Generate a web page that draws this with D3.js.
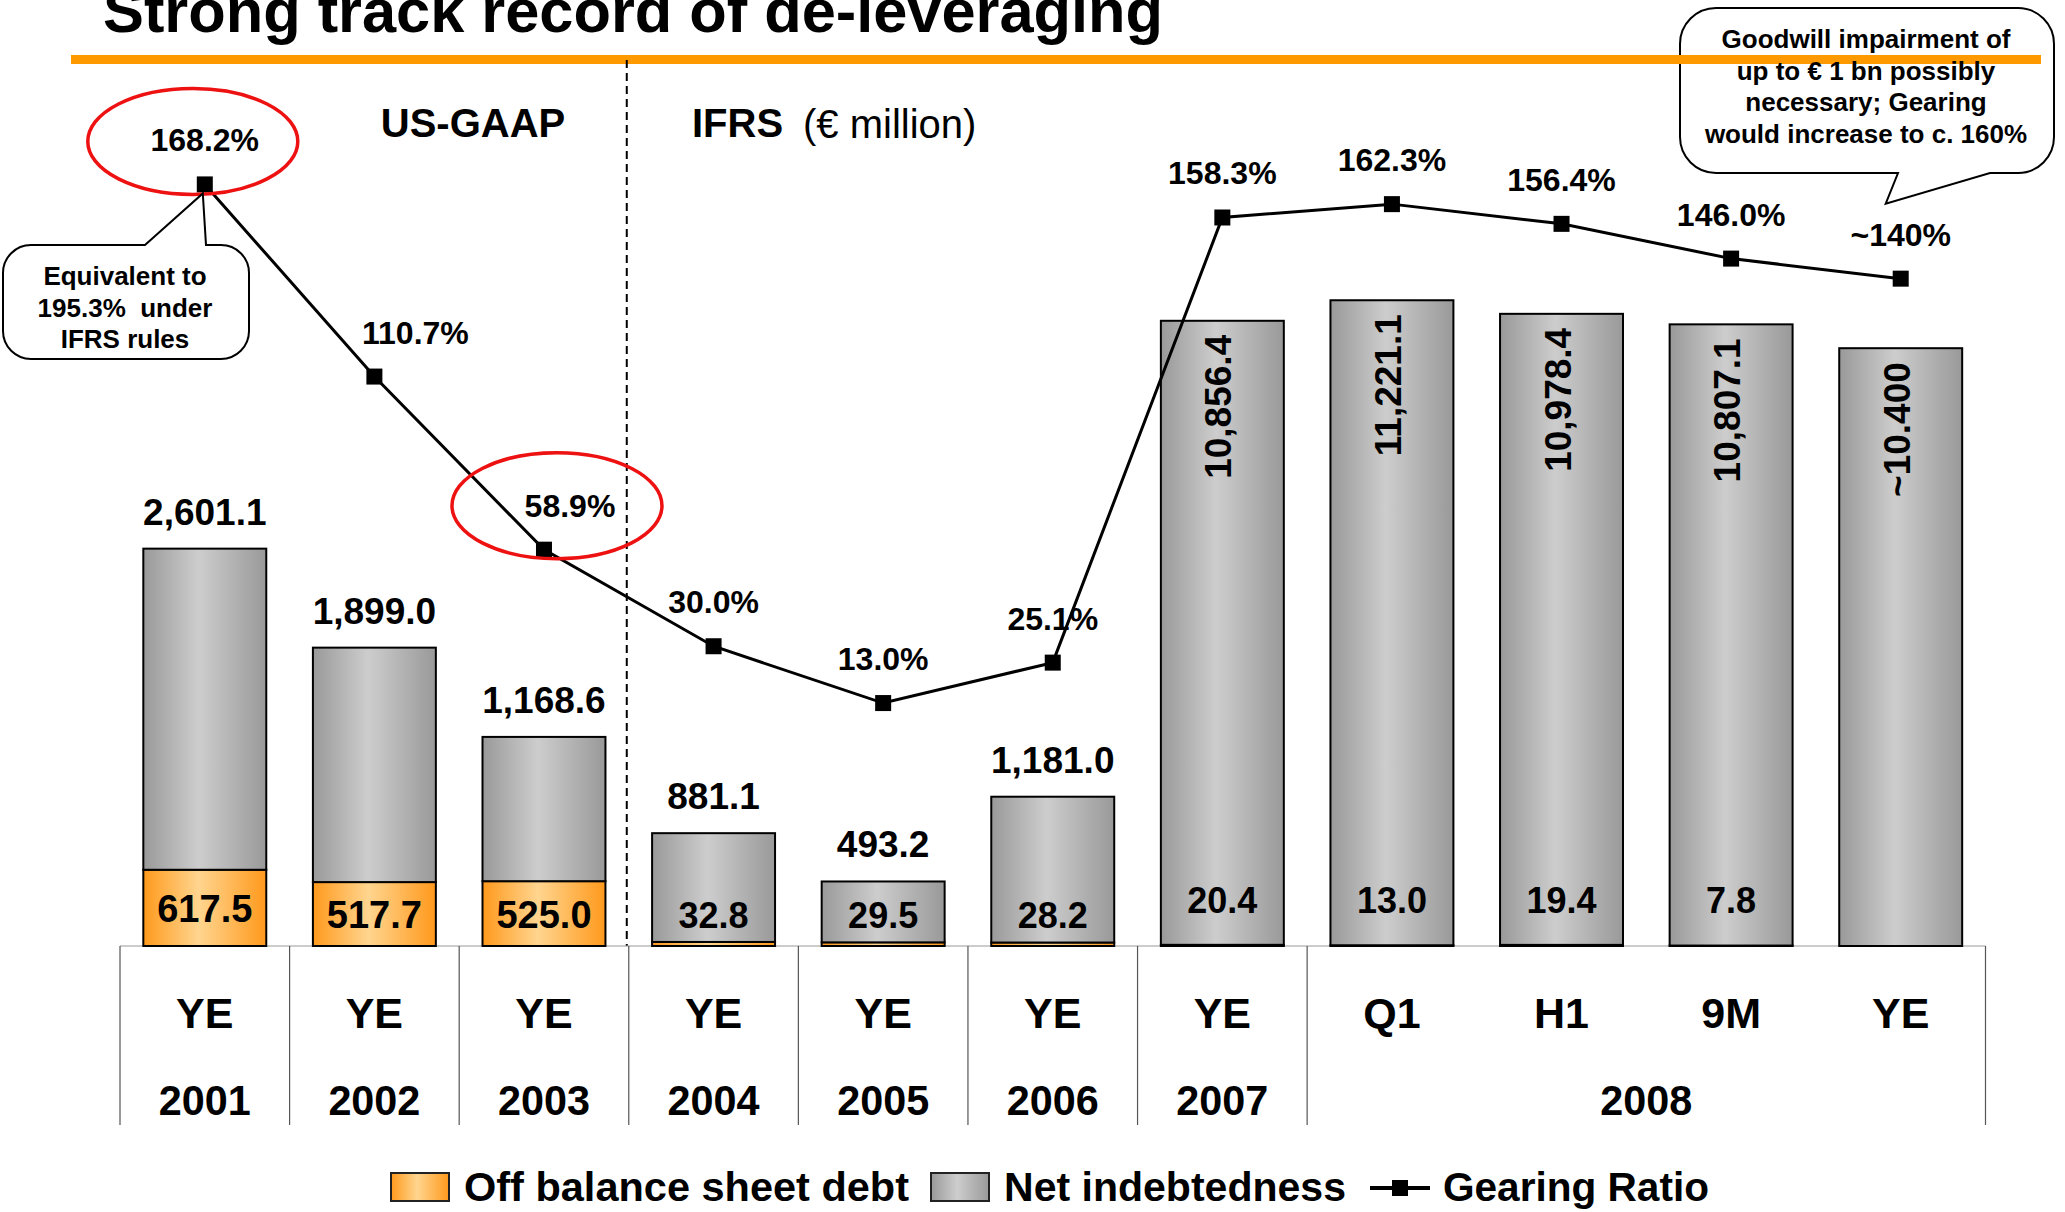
<!DOCTYPE html>
<html>
<head>
<meta charset="utf-8">
<script src="https://cdn.jsdelivr.net/npm/d3@7"></script>
<style>
	body { margin: 0; background: #fff; }
	svg { display: block; font-family: 'Liberation Sans', Arial, sans-serif; }
</style>
</head>
<body>
<div id="chart"></div>
<script>
const periods = ['YE 2001', 'YE 2002', 'YE 2003', 'YE 2004', 'YE 2005', 'YE 2006', 'YE 2007', 'Q1 2008', 'H1 2008', '9M 2008', 'YE 2008'];
const periodTicks = ['YE', 'YE', 'YE', 'YE', 'YE', 'YE', 'YE', 'Q1', 'H1', '9M', 'YE'];
const yearTicks = ['2001', '2002', '2003', '2004', '2005', '2006', '2007', '2008'];
const yearSpans = [1, 1, 1, 1, 1, 1, 1, 4];

const offBalance = [617.5, 517.7, 525.0, 32.8, 29.5, 28.2, 20.4, 13.0, 19.4, 7.8, 0];
const offBalanceLabels = ['617.5', '517.7', '525.0', '32.8', '29.5', '28.2', '20.4', '13.0', '19.4', '7.8', ''];
const netDebt = [2601.1, 1899.0, 1168.6, 881.1, 493.2, 1181.0, 10856.4, 11221.1, 10978.4, 10807.1, 10400];
const netDebtLabels = ['2,601.1', '1,899.0', '1,168.6', '881.1', '493.2', '1,181.0', '10,856.4', '11,221.1', '10,978.4', '10,807.1', '~10.400'];
const gearing = [168.2, 110.7, 58.9, 30.0, 13.0, 25.1, 158.3, 162.3, 156.4, 146.0, 140];
const gearingLabels = ['168.2%', '110.7%', '58.9%', '30.0%', '13.0%', '25.1%', '158.3%', '162.3%', '156.4%', '146.0%', '~140%'];

// the slide draws 2007 onwards on a compressed scale
const brokenAxisFrom = 'YE 2007';
const circled = ['YE 2001', 'YE 2003'];
const legendItems = ['Off balance sheet debt', 'Net indebtedness', 'Gearing Ratio'];

const width = 2065;
const height = 1212;
const base = 946;

const svg = d3.select('#chart').append('svg').attr('width', width).attr('height', height);

const x = d3.scaleBand().domain(periods).range([120, 1985.5]).paddingInner(0.275).paddingOuter(0.1375);
const yEarly = d3.scaleLinear().domain([0, 3240]).range([base, 546]);
const yLate = d3.scaleLinear().domain([0, 11221.1]).range([base, 301]);
const yGear = d3.scaleLinear().domain([0, 170]).range([746.5, 178.4]);
const lateStart = periods.indexOf(brokenAxisFrom);

const rows = periods.map((p, i) => ({
	p,
	i,
	off: offBalance[i],
	net: netDebt[i],
	gear: gearing[i],
	y: i >= lateStart ? yLate : yEarly,
}));

const cx = (p) => x(p) + x.bandwidth() / 2;

// gradients
const defs = svg.append('defs');
function grad(id, edge, mid) {
	const g = defs.append('linearGradient').attr('id', id).attr('x1', 0).attr('x2', 1).attr('y1', 0).attr('y2', 0);
	g.append('stop').attr('offset', '0%').attr('stop-color', edge);
	g.append('stop').attr('offset', '45%').attr('stop-color', mid);
	g.append('stop').attr('offset', '100%').attr('stop-color', edge);
}
grad('gOrange', '#FF991C', '#FFD58F');
grad('gGray', '#999999', '#CDCDCD');

function fit(sel, w) {
	sel.attr('textLength', w).attr('lengthAdjust', 'spacingAndGlyphs');
}

// title
svg.append('text')
	.attr('x', 103)
	.attr('y', 32)
	.attr('font-size', 61)
	.attr('font-weight', 'bold')
	.text('Strong track record of de-leveraging')
	.call(fit, 1060);

// callout with pointer
function callout(bx, by, bw, bh, r, side, a, tip, b) {
	const p = d3.path();
	p.moveTo(bx + r, by);
	if (side === 'top') {
		p.lineTo(a, by);
		p.lineTo(tip[0], tip[1]);
		p.lineTo(b, by);
	}
	p.arcTo(bx + bw, by, bx + bw, by + r, r);
	p.arcTo(bx + bw, by + bh, bx + bw - r, by + bh, r);
	if (side === 'bottom') {
		p.lineTo(b, by + bh);
		p.lineTo(tip[0], tip[1]);
		p.lineTo(a, by + bh);
	}
	p.arcTo(bx, by + bh, bx, by + bh - r, r);
	p.arcTo(bx, by, bx + r, by, r);
	p.closePath();
	return svg.append('path')
		.attr('d', p.toString())
		.attr('fill', '#fff')
		.attr('stroke', '#000')
		.attr('stroke-width', 2);
}

const last = periods[periods.length - 1];
callout(1680, 8, 374, 165, 36, 'bottom', 1898, [cx(last) - 15, yGear(gearing[gearing.length - 1]) - 75], 1990);

// orange rule
svg.append('rect').attr('x', 71).attr('y', 55).attr('width', 1970).attr('height', 9).attr('fill', '#FF9900');

const note2 = ['Goodwill impairment of', 'up to € 1 bn possibly', 'necessary; Gearing', 'would increase to c. 160%'];
svg.append('g')
	.selectAll('text')
	.data(note2)
	.join('text')
	.attr('x', 1866)
	.attr('y', (d, i) => 48 + i * 31.5)
	.attr('text-anchor', 'middle')
	.attr('font-size', 26)
	.attr('font-weight', 'bold')
	.text((d) => d);

// US-GAAP / IFRS divider
const divX = (x(periods[2]) + x.bandwidth() + x(periods[3])) / 2 - 2;
svg.append('line')
	.attr('x1', divX).attr('x2', divX)
	.attr('y1', 60).attr('y2', base)
	.attr('stroke', '#000')
	.attr('stroke-width', 2)
	.attr('stroke-dasharray', '8,5');

svg.append('text').attr('x', 473).attr('y', 137).attr('text-anchor', 'middle')
	.attr('font-size', 40).attr('font-weight', 'bold').text('US-GAAP');
svg.append('text').attr('x', 692).attr('y', 137)
	.attr('font-size', 40).attr('font-weight', 'bold').text('IFRS');
svg.append('text').attr('x', 803).attr('y', 138)
	.attr('font-size', 40).text('(€ million)');

// category table
const step = x.step();
const left = x.range()[0];
const tableBottom = 1125;
let k = 0;
const groupBounds = [0];
yearSpans.forEach((s) => { k += s; groupBounds.push(k); });

svg.append('line').attr('x1', left).attr('x2', x.range()[1])
	.attr('y1', base).attr('y2', base).attr('stroke', '#999').attr('stroke-width', 1);

svg.append('g')
	.selectAll('line')
	.data(groupBounds)
	.join('line')
	.attr('x1', (d) => left + d * step)
	.attr('x2', (d) => left + d * step)
	.attr('y1', base)
	.attr('y2', tableBottom)
	.attr('stroke', '#555')
	.attr('stroke-width', 1.2);

svg.append('g')
	.selectAll('text')
	.data(periodTicks)
	.join('text')
	.attr('x', (d, i) => cx(periods[i]))
	.attr('y', 1028)
	.attr('text-anchor', 'middle')
	.attr('font-size', 43)
	.attr('font-weight', 'bold')
	.text((d) => d);

svg.append('g')
	.selectAll('text')
	.data(yearTicks)
	.join('text')
	.attr('x', (d, i) => left + ((groupBounds[i] + groupBounds[i + 1]) / 2) * step)
	.attr('y', 1115)
	.attr('text-anchor', 'middle')
	.attr('font-size', 43)
	.attr('font-weight', 'bold')
	.text((d) => d)
	.call(fit, 92);

// bars
const bars = svg.append('g');
bars.selectAll('.off')
	.data(rows)
	.join('rect')
	.attr('class', 'off')
	.attr('x', (d) => x(d.p))
	.attr('width', x.bandwidth())
	.attr('y', (d) => d.y(d.off))
	.attr('height', (d) => base - d.y(d.off))
	.attr('fill', 'url(#gOrange)')
	.attr('stroke', '#000')
	.attr('stroke-width', 2);

bars.selectAll('.net')
	.data(rows)
	.join('rect')
	.attr('class', 'net')
	.attr('x', (d) => x(d.p))
	.attr('width', x.bandwidth())
	.attr('y', (d) => d.y(d.off + d.net))
	.attr('height', (d) => d.y(d.off) - d.y(d.off + d.net))
	.attr('fill', 'url(#gGray)')
	.attr('stroke', '#000')
	.attr('stroke-width', 2);

// bar labels
const labels = svg.append('g').attr('font-weight', 'bold');
labels.selectAll('.netTop')
	.data(rows.filter((d) => d.i < lateStart))
	.join('text')
	.attr('x', (d) => cx(d.p))
	.attr('y', (d) => d.y(d.off + d.net) - 24)
	.attr('text-anchor', 'middle')
	.attr('font-size', 37)
	.text((d) => netDebtLabels[d.i]);

labels.selectAll('.netIn')
	.data(rows.filter((d) => d.i >= lateStart))
	.join('text')
	.attr('transform', (d) => `translate(${cx(d.p) + 9},${d.y(d.off + d.net) + 14}) rotate(-90)`)
	.attr('text-anchor', 'end')
	.attr('font-size', 37)
	.text((d) => netDebtLabels[d.i]);

labels.selectAll('.offIn')
	.data(rows)
	.join('text')
	.attr('x', (d) => cx(d.p))
	.attr('y', (d) => {
		if (d.i < 3) return (d.y(d.off) + base) / 2 + 14;
		if (d.i < lateStart) return base - 18;
		return base - 33;
	})
	.attr('text-anchor', 'middle')
	.attr('font-size', (d) => (d.i < 3 ? 38 : 36))
	.text((d) => offBalanceLabels[d.i]);

// gearing ratio
const line = d3.line().x((d) => cx(d.p)).y((d) => yGear(d.gear));
svg.append('path')
	.datum(rows)
	.attr('d', line)
	.attr('fill', 'none')
	.attr('stroke', '#000')
	.attr('stroke-width', 3);

svg.append('g')
	.selectAll('rect')
	.data(rows)
	.join('rect')
	.attr('x', (d) => cx(d.p) - 8)
	.attr('y', (d) => yGear(d.gear) - 8)
	.attr('width', 16)
	.attr('height', 16)
	.attr('fill', '#000');

const gearShift = { 'YE 2002': 41, 'YE 2003': 26 };
svg.append('g')
	.selectAll('text')
	.data(rows)
	.join('text')
	.attr('x', (d) => cx(d.p) + (gearShift[d.p] || 0))
	.attr('y', (d) => yGear(d.gear) - 33)
	.attr('text-anchor', 'middle')
	.attr('font-size', 32)
	.attr('font-weight', 'bold')
	.text((d) => gearingLabels[d.i]);

// red circles
const ringShift = { 'YE 2001': [-12, -43], 'YE 2003': [13, -44] };
svg.append('g')
	.selectAll('ellipse')
	.data(rows.filter((d) => circled.includes(d.p)))
	.join('ellipse')
	.attr('cx', (d) => cx(d.p) + ringShift[d.p][0])
	.attr('cy', (d) => yGear(d.gear) + ringShift[d.p][1])
	.attr('rx', 105)
	.attr('ry', 53)
	.attr('fill', 'none')
	.attr('stroke', '#EE1111')
	.attr('stroke-width', 3.5);

// callout on first point
const first = rows[0];
callout(3, 245, 246, 114, 28, 'top', 145, [cx(first.p) - 2, yGear(first.gear) + 9], 206);
const note1 = ['Equivalent to', '195.3%  under', 'IFRS rules'];
svg.append('g')
	.selectAll('text')
	.data(note1)
	.join('text')
	.attr('x', 125)
	.attr('y', (d, i) => 285 + i * 31.5)
	.attr('text-anchor', 'middle')
	.attr('font-size', 26)
	.attr('font-weight', 'bold')
	.style('white-space', 'pre')
	.text((d) => d);

// legend
const legend = svg.append('g').attr('font-size', 40).attr('font-weight', 'bold');
legend.append('rect').attr('x', 391).attr('y', 1173).attr('width', 58).attr('height', 28)
	.attr('fill', 'url(#gOrange)').attr('stroke', '#222').attr('stroke-width', 2);
legend.append('text').attr('x', 464).attr('y', 1201).text(legendItems[0]).call(fit, 445);
legend.append('rect').attr('x', 931).attr('y', 1173).attr('width', 58).attr('height', 28)
	.attr('fill', 'url(#gGray)').attr('stroke', '#222').attr('stroke-width', 2);
legend.append('text').attr('x', 1004).attr('y', 1201).text(legendItems[1]).call(fit, 342);
legend.append('line').attr('x1', 1370).attr('x2', 1430).attr('y1', 1188).attr('y2', 1188)
	.attr('stroke', '#000').attr('stroke-width', 4);
legend.append('rect').attr('x', 1392).attr('y', 1180).attr('width', 16).attr('height', 16).attr('fill', '#000');
legend.append('text').attr('x', 1443).attr('y', 1201).text(legendItems[2]).call(fit, 266);
</script>
</body>
</html>
